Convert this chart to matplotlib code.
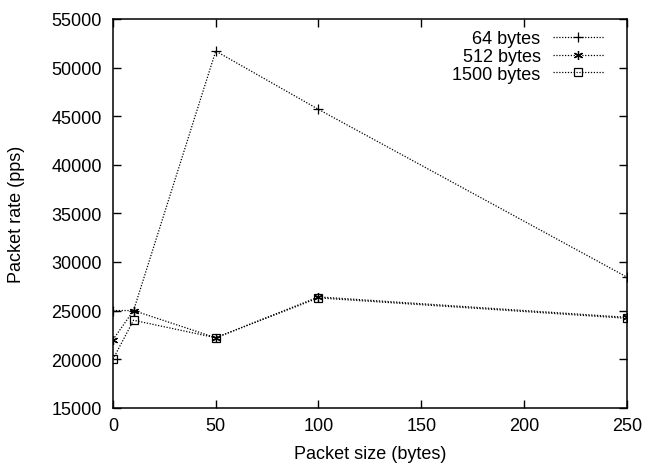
import matplotlib
matplotlib.use("Agg")
import matplotlib.pyplot as plt

plt.rcParams['font.family'] = ['Liberation Sans', 'DejaVu Sans']

x = [0, 10, 50, 100, 250]
s64 = [25000, 25000, 51700, 45700, 28450]
s512 = [22000, 25000, 22200, 26400, 24300]
s1500 = [20000, 24000, 22200, 26300, 24200]
labels = ["64 bytes", "512 bytes", "1500 bytes"]

FS = 13

fig = plt.figure(figsize=(6.46, 4.64), dpi=100)
ax = fig.add_axes([113/646, 1 - 408.7/464, (626.7-113)/646, (408.7-20)/464])

common = dict(color='black', linestyle=(0, (1, 1.3)), linewidth=0.9,
              markeredgewidth=0.9)
ax.plot(x, s64, marker='+', markersize=6.5, label=labels[0], **common)
ax.plot(x, s512, marker=(6, 2, 0), markersize=6.5, label=labels[1], **common)
ax.plot(x, s1500, marker='s', markerfacecolor='none', markersize=5.5, label=labels[2], **common)

ax.set_xlim(0, 250)
ax.set_ylim(15000, 55000)
ax.set_xticks([0, 50, 100, 150, 200, 250])
ax.set_yticks(range(15000, 55001, 5000))
ax.tick_params(direction='in', length=6, width=1, top=True, right=True, labelsize=FS)
ax.tick_params(axis='y', pad=8)
ax.tick_params(axis='x', pad=7)
for sp in ax.spines.values():
    sp.set_linewidth(1.1)
ax.set_xlabel("Packet size (bytes)", fontsize=FS, labelpad=7.5)
ax.set_ylabel("Packet rate (pps)", fontsize=FS, labelpad=19)

leg = ax.legend(loc='upper right', markerfirst=False, frameon=False, fontsize=FS,
                handlelength=2.8, handletextpad=0.7, labelspacing=0.05,
                borderaxespad=0, borderpad=0,
                bbox_to_anchor=(1 - 23/513.7, 1 - 11/388.7))

fig.savefig("out.png", dpi=100)
